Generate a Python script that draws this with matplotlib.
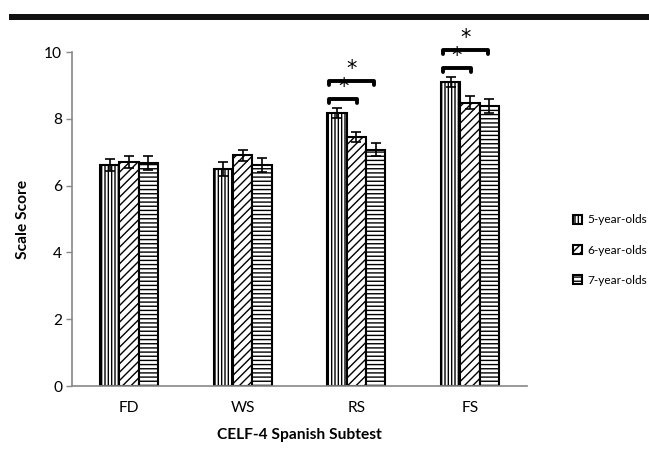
import matplotlib
matplotlib.use("Agg")
import matplotlib.pyplot as plt
import numpy as np
from matplotlib.patches import Rectangle, Patch

plt.rcParams['font.family'] = ['Lato', 'DejaVu Sans']
plt.rcParams['hatch.linewidth'] = 1.0

categories = ["FD", "WS", "RS", "FS"]
series = ["5-year-olds", "6-year-olds", "7-year-olds"]
means_5 = [6.62, 6.50, 8.17, 9.10]
means_6 = [6.72, 6.91, 7.45, 8.48]
means_7 = [6.68, 6.62, 7.08, 8.38]
err_5 = [0.18, 0.20, 0.15, 0.15]
err_6 = [0.18, 0.16, 0.15, 0.20]
err_7 = [0.20, 0.20, 0.20, 0.20]
yticks = [0, 2, 4, 6, 8, 10]
# significance brackets: (category index, from series, to series)
sig_pairs = [(2, 0, 1), (2, 0, 2), (3, 0, 1), (3, 0, 2)]

hatches = ['|||||', '////', '----']
means = [means_5, means_6, means_7]
errs = [err_5, err_6, err_7]
FS = 11.2

fig = plt.figure(figsize=(6.49, 4.53), dpi=100)
ax = fig.add_axes([72/649, 1-386/453, (527-72)/649, (386-52)/453])

x = np.arange(len(categories))
w = 0.17
offsets = [-w, 0, w]
for i in range(3):
    ax.bar(x + offsets[i], means[i], width=w, color='white', edgecolor='black',
           linewidth=1.5, hatch=hatches[i], label=series[i], zorder=2)
    ax.errorbar(x + offsets[i], means[i], yerr=errs[i], fmt='none', ecolor='black',
                elinewidth=1.2, capsize=3.5, capthick=1.2, zorder=3)

# significance brackets
level = {}
for (c, a, b) in sig_pairs:
    n = level.get(c, 0)
    top = means[a][c] + errs[a][c]
    yb = top + 0.28 + n * 0.52
    x0 = x[c] + offsets[a] - w * 0.4
    x1 = x[c] + offsets[b] + (0.05 if b == 1 else -0.08) * w
    ax.plot([x0, x0, x1, x1], [yb - 0.12, yb, yb, yb - 0.12], color='black', lw=2.8,
            solid_capstyle='round', solid_joinstyle='round', clip_on=False, zorder=4)
    ax.text((x0 + x1) / 2, yb + 0.06, '*', ha='center', va='bottom', fontsize=15,
            family='DejaVu Sans', clip_on=False)
    level[c] = n + 1

ax.set_xlim(-0.5, len(categories) - 0.5)
ax.set_ylim(0, 10)
ax.set_yticks(yticks)
ax.set_xticks(x)
ax.set_xticklabels(categories)
ax.tick_params(axis='x', length=0, pad=11, labelsize=FS)
ax.tick_params(axis='y', length=4, width=1, color='#888888', labelsize=FS, pad=3)
for s in ['top', 'right']:
    ax.spines[s].set_visible(False)
for s in ['left', 'bottom']:
    ax.spines[s].set_color('#888888')
    ax.spines[s].set_linewidth(1.2)

ax.set_ylabel('Scale Score', fontweight='bold', fontsize=FS, labelpad=10)
ax.set_xlabel('CELF-4 Spanish Subtest', fontweight='bold', fontsize=FS, labelpad=9)

handles = [Patch(facecolor='white', edgecolor='black', hatch=hatches[i], linewidth=1.5)
           for i in range(3)]
fig.legend(handles, series, loc='center left', bbox_to_anchor=(573/649, 1-250/453),
           bbox_transform=fig.transFigure, frameon=False,
           prop={'family': ['Lato', 'DejaVu Sans'], 'size': 8.6},
           handlelength=0.75, handleheight=0.75, handletextpad=0.45,
           labelspacing=1.6, borderpad=0, borderaxespad=0)

fig.add_artist(Rectangle((9/649, 1-19.5/453), 1, 6/453, transform=fig.transFigure,
                         color='#111111', lw=0))

fig.savefig('out.png', dpi=100)
